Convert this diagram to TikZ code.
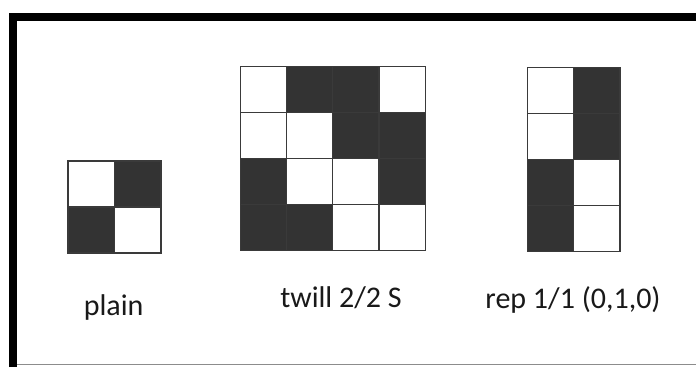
\documentclass[tikz,border=0pt]{standalone}
\usepackage{fontspec}
\setmainfont{Carlito}
\definecolor{cellfill}{HTML}{333333}
\definecolor{gridline}{HTML}{3A3A3A}
\tikzset{
  frameline/.style={line width=8pt, line join=miter, black},
  cellbox/.style={draw=gridline, line width=1.1pt, fill=white},
  darkcell/.style={draw=gridline, line width=1.1pt, fill=cellfill},
  labeltext/.style={font=\fontsize{30}{34}\selectfont, anchor=base, inner sep=0pt, text=black!90}
}
\begin{document}
\begin{tikzpicture}[x=1pt,y=-1pt]
\useasboundingbox (0,0) rectangle (696,367);
\fill[white] (0,0) rectangle (696,367);
% frame
\draw[frameline] (13,367) -- (13,16.5) -- (696,16.5);
\draw[black!45, line width=1.5pt] (17,364.5) -- (696,364.5);
% plain weave (2x2)
\foreach \r/\c/\v in {0/0/0,0/1/1,1/0/1,1/1/0}{
  \ifnum\v=1
    \draw[darkcell] (68+46.5*\c,161+46*\r) rectangle ++(46.5,46);
  \else
    \draw[cellbox] (68+46.5*\c,161+46*\r) rectangle ++(46.5,46);
  \fi
}
% twill 2/2 S (4x4)
\foreach \r/\c/\v in {0/0/0,0/1/1,0/2/1,0/3/0,
                      1/0/0,1/1/0,1/2/1,1/3/1,
                      2/0/1,2/1/0,2/2/0,2/3/1,
                      3/0/1,3/1/1,3/2/0,3/3/0}{
  \ifnum\v=1
    \draw[darkcell] (240.5+46.15*\c,66.5+46.1*\r) rectangle ++(46.15,46.1);
  \else
    \draw[cellbox] (240.5+46.15*\c,66.5+46.1*\r) rectangle ++(46.15,46.1);
  \fi
}
% rep 1/1 (2x4)
\foreach \r/\c/\v in {0/0/0,0/1/1,
                      1/0/0,1/1/1,
                      2/0/1,2/1/0,
                      3/0/1,3/1/0}{
  \ifnum\v=1
    \draw[darkcell] (527.5+46.25*\c,67.5+45.9*\r) rectangle ++(46.25,45.9);
  \else
    \draw[cellbox] (527.5+46.25*\c,67.5+45.9*\r) rectangle ++(46.25,45.9);
  \fi
}
% labels
\node[labeltext] (plainlbl) at (113.7,315) {plain};
\node[labeltext] (twilllbl) at (341,307) {twill 2/2 S};
\node[labeltext] (replbl) at (573,308) {rep 1/1 (0,1,0)};
\end{tikzpicture}
\end{document}
